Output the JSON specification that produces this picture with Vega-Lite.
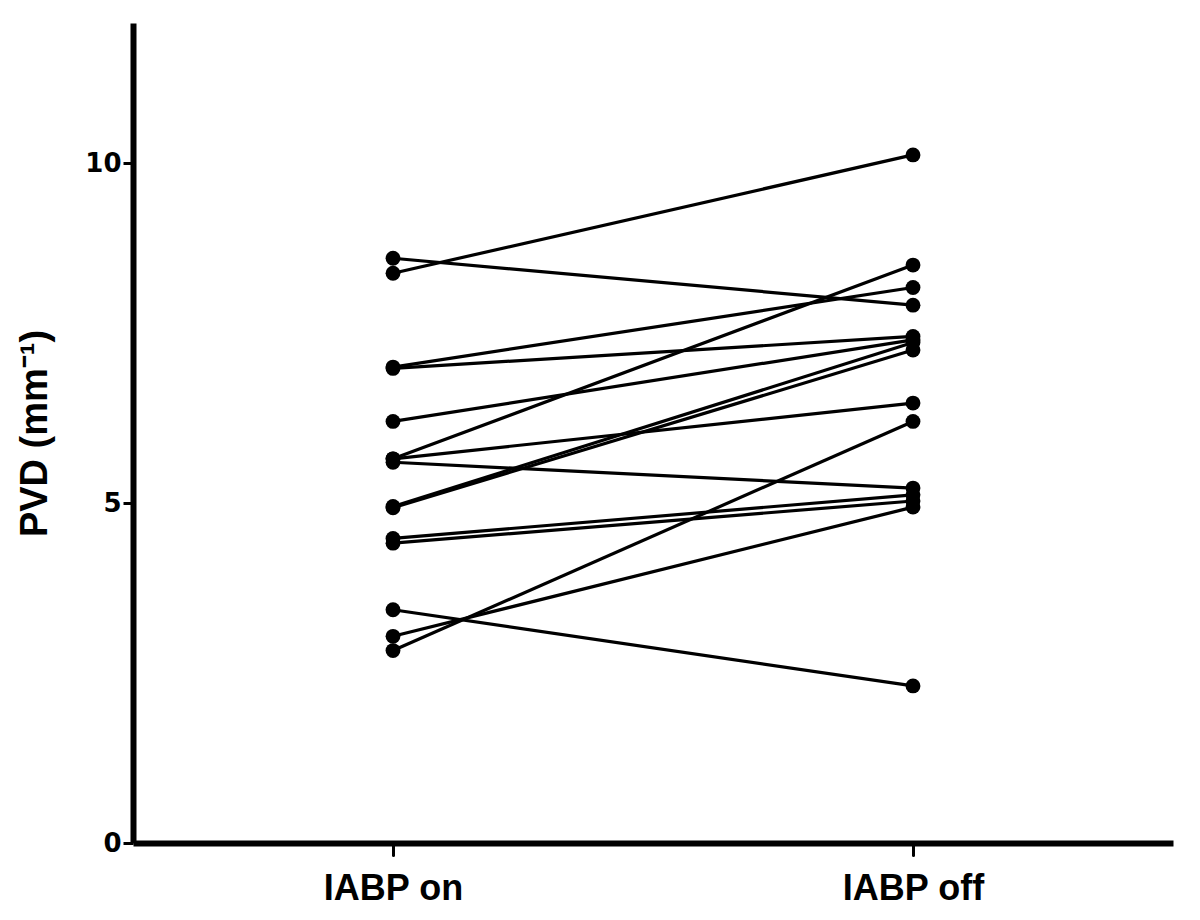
{
  "$schema": "https://vega.github.io/schema/vega-lite/v6.json",
  "width": 1040,
  "height": 820,
  "autosize": "none",
  "padding": {"left": 133, "top": 23, "right": 27, "bottom": 77},
  "background": "white",
  "config": {
    "view": {"stroke": null},
    "font": "Liberation Sans"
  },
  "data": {
    "values": [
      {"id": 1, "cond": "IABP on", "pvd": 8.60}, {"id": 1, "cond": "IABP off", "pvd": 7.91},
      {"id": 2, "cond": "IABP on", "pvd": 8.38}, {"id": 2, "cond": "IABP off", "pvd": 10.12},
      {"id": 3, "cond": "IABP on", "pvd": 7.00}, {"id": 3, "cond": "IABP off", "pvd": 8.17},
      {"id": 4, "cond": "IABP on", "pvd": 6.98}, {"id": 4, "cond": "IABP off", "pvd": 7.45},
      {"id": 5, "cond": "IABP on", "pvd": 6.20}, {"id": 5, "cond": "IABP off", "pvd": 7.40},
      {"id": 6, "cond": "IABP on", "pvd": 5.65}, {"id": 6, "cond": "IABP off", "pvd": 8.50},
      {"id": 7, "cond": "IABP on", "pvd": 5.65}, {"id": 7, "cond": "IABP off", "pvd": 6.47},
      {"id": 8, "cond": "IABP on", "pvd": 5.60}, {"id": 8, "cond": "IABP off", "pvd": 5.22},
      {"id": 9, "cond": "IABP on", "pvd": 4.95}, {"id": 9, "cond": "IABP off", "pvd": 7.36},
      {"id": 10, "cond": "IABP on", "pvd": 4.93}, {"id": 10, "cond": "IABP off", "pvd": 7.25},
      {"id": 11, "cond": "IABP on", "pvd": 4.48}, {"id": 11, "cond": "IABP off", "pvd": 5.12},
      {"id": 12, "cond": "IABP on", "pvd": 4.41}, {"id": 12, "cond": "IABP off", "pvd": 5.03},
      {"id": 13, "cond": "IABP on", "pvd": 3.43}, {"id": 13, "cond": "IABP off", "pvd": 2.31},
      {"id": 14, "cond": "IABP on", "pvd": 3.04}, {"id": 14, "cond": "IABP off", "pvd": 4.94},
      {"id": 15, "cond": "IABP on", "pvd": 2.83}, {"id": 15, "cond": "IABP off", "pvd": 6.20}
    ]
  },
  "encoding": {
    "x": {
      "field": "cond",
      "type": "nominal",
      "sort": ["IABP on", "IABP off"],
      "scale": {"type": "point", "padding": 0.5},
      "axis": {
        "title": null,
        "labelAngle": 0,
        "labelFont": "Liberation Sans",
        "labelFontSize": 36,
        "labelFontWeight": "bold",
        "labelColor": "black",
        "labelPadding": 16,
        "domainColor": "black",
        "domainWidth": 6,
        "tickColor": "black",
        "tickWidth": 3,
        "tickSize": 12,
        "tickCap": "round",
        "grid": false
      }
    },
    "y": {
      "field": "pvd",
      "type": "quantitative",
      "scale": {"domain": [0, 12.06], "nice": false, "zero": true},
      "axis": {
        "title": "PVD (mm⁻¹)",
        "titleFont": "Liberation Sans",
        "titleFontSize": 38,
        "titleFontWeight": "bold",
        "titleColor": "black",
        "titlePadding": 30,
        "values": [0, 5, 10],
        "labelFont": "DejaVu Sans",
        "labelFontSize": 26,
        "labelFontWeight": "bold",
        "labelColor": "black",
        "labelPadding": 2,
        "domainColor": "black",
        "domainWidth": 6,
        "tickColor": "black",
        "tickWidth": 3,
        "tickSize": 10,
        "grid": false
      }
    }
  },
  "layer": [
    {
      "mark": {"type": "line", "color": "black", "strokeWidth": 3.2},
      "encoding": {"detail": {"field": "id", "type": "nominal"}}
    },
    {
      "mark": {"type": "point", "filled": true, "color": "black", "opacity": 1, "size": 220, "shape": "circle"}
    }
  ]
}
